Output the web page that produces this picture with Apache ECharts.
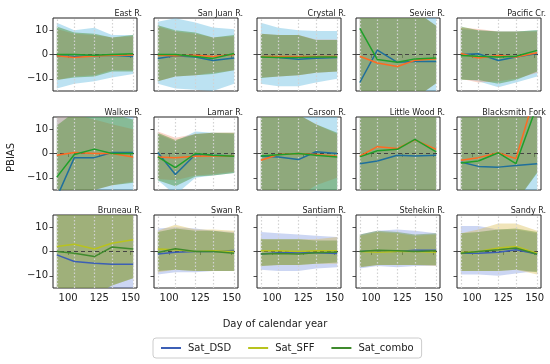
<!DOCTYPE html>
<html><head><meta charset="utf-8">
<script src="https://cdn.jsdelivr.net/npm/echarts@6/dist/echarts.min.js"></script>
<style>html,body{margin:0;padding:0;background:#fff}#c{width:550px;height:364px}</style>
</head><body><div id="c"></div>
<script>
const days = [91, 105, 121, 135, 152];
const rivers = ['East R.', 'San Juan R.', 'Crystal R.', 'Sevier R.', 'Pacific Cr.',
  'Walker R.', 'Lamar R.', 'Carson R.', 'Little Wood R.', 'Blacksmith Fork',
  'Bruneau R.', 'Swan R.', 'Santiam R.', 'Stehekin R.', 'Sandy R.'];
const xTicks = [100, 125, 150];
const yTicks = [-10, 0, 10];
const seriesNames = ['Sat_DSD', 'Sat_SFF', 'Sat_combo'];

const dsdLine = [
  [-0.5, -0.8, -0.5, -0.3, -0.8], [-1.6, -0.5, -1, -2.5, -1.4], [-0.8, -1.2, -2, -1.5, -1.2], [-11.5, 1.8, -3.2, -2.9, -2.9], [0, 0.3, -2.5, -1, 0.4],
  [-18, -1.7, -1.7, 0.4, 0.4], [0.4, -8.6, -0.4, -0.7, -1], [-1.1, -1.4, -2.5, 0.7, 0], [-4.2, -3.1, -0.7, -1, -0.7], [-3.5, -5.3, -5.6, -4.9, -4.2],
  [-1.4, -4.1, -4.8, -5.2, -5.2], [-1, -0.3, 0, 0, 0.4], [-1, -0.5, -0.5, -0.5, -0.8], [0, 0.3, 0, 0.5, 0.5], [-0.7, -0.7, -0.3, 0.7, -1]
];
const sffLine = [
  [-0.5, -1.2, -0.6, -0.3, -0.2], [-0.3, -0.5, -0.3, -0.8, 0], [-0.8, -0.8, -0.8, -0.8, -0.8], [-0.7, -3.5, -4.9, -2.4, -1.7], [0.4, -1.4, -0.4, -1, 0.7],
  [-0.7, 0.4, 0, 0, -1.4], [-1.4, -1.7, -1.1, -1, -1], [-2.8, -0.4, 0, -0.4, -1.1], [-1.1, 2.8, 2.1, 5.6, 1.7], [-2.8, -1.7, 0.3, -2.1, 27],
  [2.1, 3, 1, 3.4, 4.8], [1, 0.7, 0, 0.3, 0], [0.3, 0.3, 0, 0.3, 0.3], [0, -0.3, 0, 0, -0.3], [-0.4, 0, 1.4, 2.1, -0.7]
];
const comboLine = [
  [0, 0, -0.3, 0, 0.3], [0, 0, -0.8, -1.6, 0.4], [-1, -1.2, -1.2, -1, -1], [10.7, -2.1, -3.2, -1.8, -1.4], [-0.4, -0.7, -1, -0.7, 1.7],
  [-9.7, -0.4, 1.8, 0, 0], [-1.4, -5.8, 0, -0.7, -1.1], [-1, -0.5, 0, -0.7, -1.4], [-1.4, 1.1, 1.7, 5.8, 0.7], [-3.9, -3.1, 0.3, -4.2, 20],
  [0, -0.7, -2.1, 1.8, 1], [-0.4, 1.1, 0, 0, -0.7], [-1, -0.8, -1, -0.5, -0.3], [0, 0.5, 0.3, 0, 0.3], [-0.7, 0, 0.7, 1.4, -1.1]
];
const dsdLow = [
  [-14, -12, -11, -9.5, -8], [-12, -14, -14.5, -15, -12], [-12, -13, -13, -11.5, -10], [-30, -30, -30, -30, -30], [-10, -11, -13.5, -11.5, -9],
  [-30, -25, -25, -22, -20], [-11, -17, -10, -9, -8], [-25, -25, -25, -22, -20], [-30, -30, -30, -30, -30], [-30, -30, -30, -30, -30],
  [-25, -25, -25, -22, -20], [-9.5, -8.5, -8.5, -8, -8], [-7.5, -8, -8, -7, -6.5], [-7, -6, -6.5, -6, -6], [-9.5, -9.5, -10, -9, -8]
];
const dsdHigh = [
  [13, 10, 11, 8, 8], [13.5, 14.9, 13.2, 11.1, 10.4], [13, 11, 10, 9.7, 9.7], [30, 30, 30, 30, 30], [10.5, 10, 9.5, 9.5, 10],
  [30, 25, 25, 25, 22], [8, 5, 9, 8.5, 8], [25, 25, 25, 22, 20], [30, 30, 30, 30, 30], [30, 30, 30, 30, 30],
  [25, 25, 25, 25, 25], [9.5, 10, 9.5, 8.5, 8], [8, 7.5, 7, 6.5, 6], [7, 8.5, 9, 8.5, 7.5], [10.5, 10.5, 9, 9, 7.5]
];
const sffLow = [
  [-10.5, -9, -8.5, -6.5, -6.5], [-11, -9, -8.5, -7.5, -6.5], [-9.5, -9, -8.5, -7.5, -7], [-25, -25, -25, -18, -11.8], [-10, -11.5, -11, -10, -7.5],
  [-16, -15.5, -15, -13, -11.5], [-10.5, -11, -9, -8.5, -7.5], [-25, -22, -18, -13, -10], [-25, -25, -25, -25, -25], [-25, -25, -25, -20, -7.5],
  [-20, -20, -18, -14, -11], [-8.5, -7.5, -8, -8, -8], [-6, -5.5, -5.5, -5, -5], [-6.5, -5.5, -5.5, -5.5, -6], [-8, -8, -8, -7.5, -9.5]
];
const sffHigh = [
  [10.5, 8.5, 8, 7, 7.5], [11.5, 9.5, 8.5, 7, 7.5], [8.5, 8, 8, 6.2, 6.2], [25, 25, 25, 18, 11.8], [11, 10.5, 9.5, 9.5, 9.5],
  [17, 16, 14, 12, 10], [9, 6.5, 8, 8.5, 8.5], [25, 22, 16, 12, 8], [25, 25, 25, 25, 25], [30, 30, 30, 30, 50],
  [25, 25, 25, 25, 25], [8.5, 11, 9, 9, 8.5], [5, 5, 5, 5, 6], [6.5, 8, 7.5, 6.5, 7], [7.5, 9, 11.5, 11.5, 8.5]
];
const comboLow = [
  [-10.5, -9.5, -9, -7, -7], [-11, -9, -8.5, -8, -6.5], [-9.7, -9, -8.5, -7.5, -7], [-25, -25, -25, -18, -11.8], [-10.5, -10.5, -12, -10.5, -7],
  [-15.5, -15.5, -15, -13, -12], [-11, -13.5, -9.5, -9, -8], [-25, -22, -20, -17, -15], [-25, -25, -25, -25, -25], [-25, -25, -25, -20, -8],
  [-20, -20, -18, -14, -11], [-8, -7.5, -8, -8, -8], [-6, -5.5, -5.5, -5, -4.5], [-6.5, -5.5, -5.5, -5.5, -5.5], [-8, -8, -8, -7.5, -8.5]
];
const comboHigh = [
  [11.5, 9, 8.5, 7, 8], [12, 10, 9, 7, 8], [8.5, 8, 8, 6, 6], [25, 25, 25, 18, 11.8], [11.5, 10, 9.5, 9.5, 10],
  [11.5, 17, 17, 16, 14], [8.5, 5.5, 8, 8.5, 8.5], [25, 22, 16, 12, 8.5], [25, 25, 25, 25, 25], [30, 30, 30, 30, 50],
  [25, 25, 25, 25, 25], [8, 9.5, 8.5, 8.5, 7.5], [5, 5, 5, 4.5, 4.5], [7, 8.5, 8, 7, 7.5], [7.5, 8, 9, 9.5, 8]
];

const paletteA = { line: ['#1f6f9c', '#ff6a22', '#1f9f2a'],
  band: ['rgba(95,185,225,0.42)', 'rgba(240,120,80,0.3)', 'rgba(70,140,40,0.45)'] };
const paletteB = { line: ['#3c5fb5', '#b8c31e', '#3f8a2d'],
  band: ['rgba(100,130,220,0.33)', 'rgba(215,185,70,0.38)', 'rgba(90,140,45,0.42)'] };

const lefts = [53, 154, 257, 356, 457];
const tops = [18, 117, 215];
const W = 84, H = 73;

const grid = [], xAxis = [], yAxis = [], series = [], title = [];
const lines = [dsdLine, sffLine, comboLine];
const lows = [dsdLow, sffLow, comboLow];
const highs = [dsdHigh, sffHigh, comboHigh];
const minus = v => String(v).replace('-', '\u2212');

function bandRenderer(p, k, color) {
  return function (params, api) {
    const upper = days.map((d, i) => api.coord([d, highs[k][p][i]]));
    const lower = days.map((d, i) => api.coord([d, lows[k][p][i]])).reverse();
    const cs = params.coordSys;
    return { type: 'group',
      clipPath: { type: 'rect', shape: { x: cs.x, y: cs.y, width: cs.width, height: cs.height } },
      children: [{ type: 'polygon', shape: { points: upper.concat(lower) }, style: { fill: color, stroke: null } }] };
  };
}

for (let p = 0; p < 15; p++) {
  const row = Math.floor(p / 5), col = p % 5;
  const pal = row < 2 ? paletteA : paletteB;
  grid.push({ left: lefts[col], top: tops[row], width: W, height: H, show: true,
    borderColor: '#222', borderWidth: 1, backgroundColor: 'transparent', containLabel: false });
  xAxis.push({ type: 'value', gridIndex: p, min: 87.95, max: 155.05,
    axisLine: { show: false }, splitLine: { show: false },
    axisTick: { show: true, inside: false, length: 3.5, customValues: xTicks, lineStyle: { color: '#222', width: 0.8 } },
    axisLabel: { show: row === 2, customValues: xTicks, fontSize: 10, color: '#222', margin: 5, fontFamily: 'DejaVu Sans' } });
  yAxis.push({ type: 'value', gridIndex: p, min: -15, max: 15,
    axisLine: { show: false }, splitLine: { show: false },
    axisTick: { show: true, inside: false, length: 3.5, customValues: yTicks, lineStyle: { color: '#222', width: 0.8 } },
    axisLabel: { show: col === 0, customValues: yTicks, fontSize: 10, color: '#222', margin: 5, fontFamily: 'DejaVu Sans', formatter: minus } });
  title.push({ text: rivers[p], left: lefts[col] + W, top: tops[row] - 13, textAlign: 'right',
    textStyle: { fontSize: 8, fontWeight: 'normal', color: '#222', fontFamily: 'DejaVu Sans' } });
  for (let k = 0; k < 3; k++) {
    series.push({ type: 'custom', xAxisIndex: p, yAxisIndex: p, silent: true, z: 1,
      data: [[days[0], lows[k][p][0]]], renderItem: bandRenderer(p, k, pal.band[k]) });
  }
  series.push({ type: 'line', xAxisIndex: p, yAxisIndex: p, data: days.map((d, i) => [d, 0]),
    symbol: 'none', silent: true, z: 5, lineStyle: { opacity: 0, width: 0 },
    markLine: { silent: true, symbol: 'none', label: { show: false }, animation: false, z: 5,
      data: days.map(d => ({ xAxis: d, lineStyle: { color: '#d2d2d2', type: [1.5, 2], width: 1.2 } }))
        .concat([{ yAxis: 0, lineStyle: { color: '#444', type: [4, 3], width: 1.1 } }]) } });
  for (let k = 0; k < 3; k++) {
    series.push({ type: 'line', name: row === 2 ? seriesNames[k] : undefined, xAxisIndex: p, yAxisIndex: p,
      data: days.map((d, i) => [d, lines[k][p][i]]), symbol: 'none', z: 6,
      color: pal.line[k], lineStyle: { color: pal.line[k], width: 1.5 } });
  }
}

const chart = echarts.init(document.getElementById('c'), null, { renderer: 'canvas' });
chart.setOption({
  animation: false,
  backgroundColor: '#fff',
  title, grid, xAxis, yAxis, series,
  legend: { data: seriesNames, left: 153, top: 338, icon: 'rect', itemWidth: 20, itemHeight: 2, itemGap: 17,
    borderColor: '#ccc', borderWidth: 1, borderRadius: 3, padding: [5, 8],
    textStyle: { fontSize: 10, color: '#222', fontFamily: 'DejaVu Sans', padding: [0, 0, 0, 2] } },
  graphic: [
    { type: 'text', left: 'center', top: 319, style: { text: 'Day of calendar year', fontSize: 10, fill: '#222', fontFamily: 'DejaVu Sans' } },
    { type: 'text', x: 6, y: 172, rotation: Math.PI / 2, style: { text: 'PBIAS', fontSize: 10, fill: '#222', fontFamily: 'DejaVu Sans' } }
  ]
});
</script></body></html>
